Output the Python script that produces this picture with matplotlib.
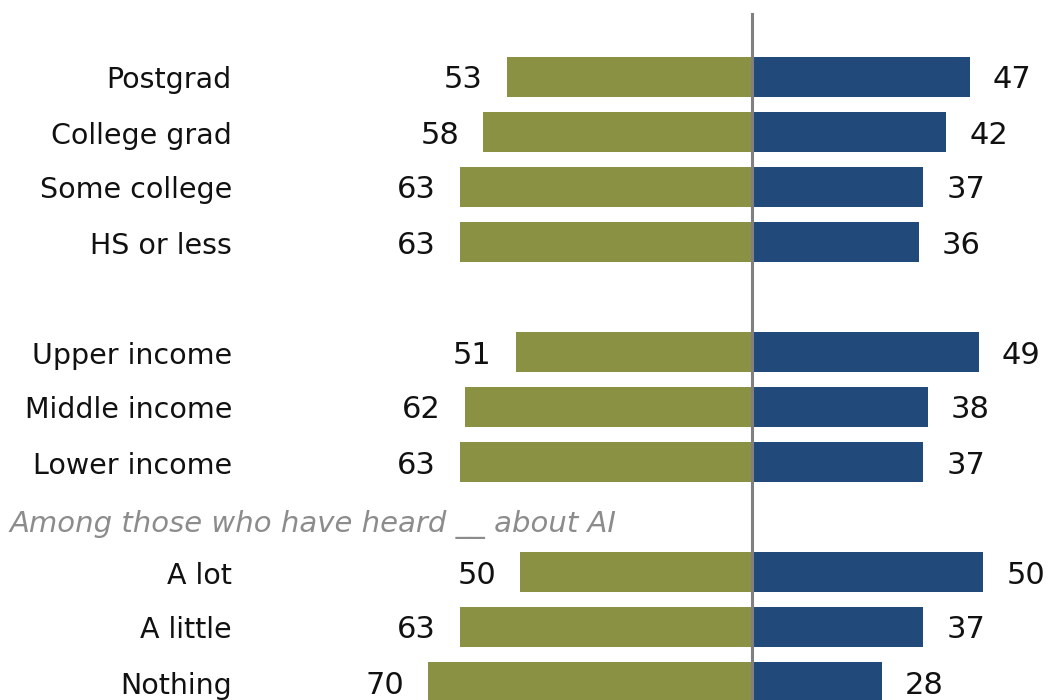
import matplotlib.pyplot as plt
import numpy as np

# rows top to bottom; None = blank row / subtitle row
categories = ["Postgrad", "College grad", "Some college", "HS or less", None,
              "Upper income", "Middle income", "Lower income", None,
              "A lot", "A little", "Nothing"]
left_vals = [53, 58, 63, 63, None, 51, 62, 63, None, 50, 63, 70]
right_vals = [47, 42, 37, 36, None, 49, 38, 37, None, 50, 37, 28]
subtitle = "Among those who have heard __ about AI"

green = "#8a9142"
navy = "#214a7b"

fig = plt.figure(figsize=(10.46, 7), dpi=100)
ax = fig.add_axes([0, 0, 1, 1])

px_per_unit = 4.63
center_px = 752
row_px = 55
ax.set_xlim(-center_px / px_per_unit, (1046 - center_px) / px_per_unit)
ax.set_ylim((700 - 77) / row_px, -77 / row_px)

base_off = 11.5 / row_px  # baseline below bar center
label_x = (232 - center_px) / px_per_unit

for i, (cat, lv, rv) in enumerate(zip(categories, left_vals, right_vals)):
    if cat is None:
        continue
    ax.barh(i, -lv, height=0.71, color=green, edgecolor="none")
    ax.barh(i, rv, height=0.71, color=navy, edgecolor="none")
    ax.text(-lv - 5.2, i + base_off, str(lv), ha="right", va="baseline",
            fontsize=22, color="#111111")
    ax.text(rv + 5, i + base_off, str(rv), ha="left", va="baseline",
            fontsize=22, color="#111111")
    ax.text(label_x, i + base_off, cat, ha="right", va="baseline",
            fontsize=20.5, color="#111111")

ax.text((10 - center_px) / px_per_unit, (532 - 77) / row_px, subtitle, ha="left",
        va="baseline", fontsize=21, style="italic", color="#8c8c8c")

ax.axvline(0, ymin=0, ymax=1 - 14 / 700, color="#808080", lw=2.2)
ax.axis("off")

fig.savefig("out.png", dpi=100)
